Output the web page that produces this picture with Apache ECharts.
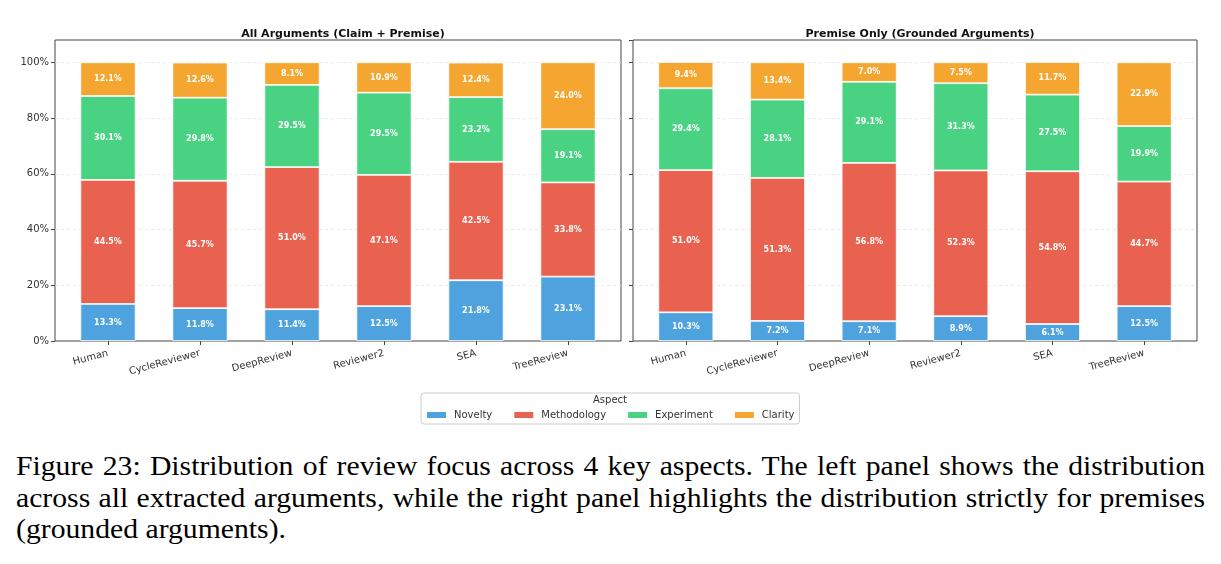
<!DOCTYPE html>
<html>
<head>
<meta charset="utf-8">
<script src="https://cdn.jsdelivr.net/npm/echarts@6/dist/echarts.min.js"></script>
<style>
  html, body { margin: 0; padding: 0; background: #fff; }
  #wrap { position: relative; width: 1221px; height: 564px; overflow: hidden; }
  #main { width: 1221px; height: 440px; }
  .caption {
    position: absolute; left: 16px; top: 451px; width: 1081px;
    transform: scaleX(1.1); transform-origin: left top;
    font-family: 'Liberation Serif', 'Times New Roman', serif;
    font-size: 27px; line-height: 31.5px; color: #000;
  }
  .caption div { text-align: justify; text-align-last: justify; white-space: nowrap; }
  .caption div.last { text-align-last: left; }
</style>
</head>
<body>
<div id="wrap">
  <div id="main"></div>
  <div class="caption">
    <div>Figure 23: Distribution of review focus across 4 key aspects. The left panel shows the distribution</div>
    <div>across all extracted arguments, while the right panel highlights the distribution strictly for premises</div>
    <div class="last">(grounded arguments).</div>
  </div>
</div>
<script>
// reviewers on the x axis
const reviewers = ['Human', 'CycleReviewer', 'DeepReview', 'Reviewer2', 'SEA', 'TreeReview']
const aspects = ['Novelty', 'Methodology', 'Experiment', 'Clarity']
const colors = ['#4ea3de', '#e9614f', '#4ad283', '#f4a630']

// left panel: all arguments (claim + premise), in %
const allNovelty = [13.3, 11.8, 11.4, 12.5, 21.8, 23.1]
const allMethodology = [44.5, 45.7, 51.0, 47.1, 42.5, 33.8]
const allExperiment = [30.1, 29.8, 29.5, 29.5, 23.2, 19.1]
const allClarity = [12.1, 12.6, 8.1, 10.9, 12.4, 24.0]

// right panel: premise only (grounded arguments), in %
const premNovelty = [10.3, 7.2, 7.1, 8.9, 6.1, 12.5]
const premMethodology = [51.0, 51.3, 56.8, 52.3, 54.8, 44.7]
const premExperiment = [29.4, 28.1, 29.1, 31.3, 27.5, 19.9]
const premClarity = [9.4, 13.4, 7.0, 7.5, 11.7, 22.9]

const yTicks = [0, 20, 40, 60, 80, 100]

const font = 'DejaVu Sans'
const yMax = 108

function frameGrid(left, width) {
    return {left: left, top: 40, width: width, height: 301, show: true, borderColor: '#444', borderWidth: 1, backgroundColor: 'transparent'}
}
function barGrid(left, width) {
    return {left: left, top: 40, width: width, height: 301}
}
function frameX(gridIndex) {
    return {type: 'value', gridIndex: gridIndex, show: false, splitLine: {show: false}, axisLine: {show: false}}
}
function frameY(gridIndex, showLabels) {
    return {
        type: 'value', gridIndex: gridIndex, min: 0, max: yMax, interval: 20,
        axisLine: {show: false},
        axisTick: {show: true, length: 4, lineStyle: {color: '#444'}},
        axisLabel: {
            show: showLabels, fontFamily: font, fontSize: 10, color: '#333', margin: 6,
            showMaxLabel: false,
            formatter: v => yTicks.indexOf(v) >= 0 ? v + '%' : ''
        },
        splitLine: {show: true, showMinLine: false, showMaxLine: false,
                    lineStyle: {color: '#e4e4e4', type: [3, 3], width: 0.8}}
    }
}
function hiddenY(gridIndex) {
    return {type: 'value', gridIndex: gridIndex, min: 0, max: yMax, show: false, splitLine: {show: false}}
}
function catX(gridIndex) {
    return {
        type: 'category', gridIndex: gridIndex, data: reviewers,
        axisLine: {show: false},
        axisTick: {show: true, alignWithLabel: true, length: 4, lineStyle: {color: '#444'}},
        axisLabel: {fontFamily: font, fontSize: 10, color: '#333', rotate: 15, margin: 12, interval: 0}
    }
}

function makeSeries(values, idx, xi, yi, stack) {
    return {
        name: aspects[idx], type: 'bar', stack: stack, xAxisIndex: xi, yAxisIndex: yi,
        data: values, barWidth: '60%',
        itemStyle: {color: colors[idx], borderColor: '#fff', borderWidth: 0.8},
        label: {
            show: true, position: 'inside', color: '#fff', fontFamily: font, fontWeight: 'bold', fontSize: 8,
            formatter: p => p.value.toFixed(1) + '%'
        },
        emphasis: {disabled: true}
    }
}

const leftSets = [allNovelty, allMethodology, allExperiment, allClarity]
const rightSets = [premNovelty, premMethodology, premExperiment, premClarity]
const series = []
leftSets.forEach((d, i) => series.push(makeSeries(d, i, 1, 1, 'left')))
rightSets.forEach((d, i) => series.push(makeSeries(d, i, 3, 3, 'right')))

const option = {
    animation: false,
    backgroundColor: '#fff',
    textStyle: {fontFamily: font},
    title: [
        {text: 'All Arguments (Claim + Premise)', left: 338, top: 24, textAlign: 'center',
         textStyle: {fontFamily: font, fontSize: 11, fontWeight: 'bold', color: '#111'}},
        {text: 'Premise Only (Grounded Arguments)', left: 915, top: 24, textAlign: 'center',
         textStyle: {fontFamily: font, fontSize: 11, fontWeight: 'bold', color: '#111'}}
    ],
    legend: {
        data: aspects, left: 421, top: 393, orient: 'horizontal',
        itemWidth: 21, itemHeight: 8, itemGap: 20,
        padding: [17, 5, 4, 4],
        borderColor: '#ccc', borderWidth: 1, borderRadius: 3, backgroundColor: '#fff',
        textStyle: {fontFamily: font, fontSize: 10, color: '#333', padding: [0, 0, 0, 2]},
        selectedMode: false,
        icon: 'rect'
    },
    graphic: [
        {type: 'text', left: 593, top: 395, z: 100,
         style: {text: 'Aspect', fontFamily: font, fontSize: 10, fill: '#333'}}
    ],
    grid: [frameGrid(55, 566), barGrid(62, 552), frameGrid(633, 564), barGrid(640, 550)],
    xAxis: [frameX(0), catX(1), frameX(2), catX(3)],
    yAxis: [frameY(0, true), hiddenY(1), frameY(2, false), hiddenY(3)],
    series: series
}

const myChart = echarts.init(document.getElementById('main'))
myChart.setOption(option)
</script>
</body>
</html>
